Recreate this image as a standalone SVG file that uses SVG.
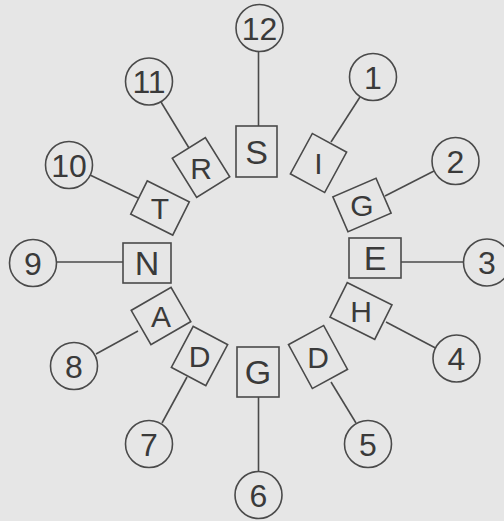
<svg xmlns="http://www.w3.org/2000/svg" width="504" height="521" viewBox="0 0 504 521">
<style>
.bg{fill:#e6e6e6}
.c{fill:none;stroke:#4a4a4a;stroke-width:1.6}
.b{fill:none;stroke:#4a4a4a;stroke-width:1.6}
.l{stroke:#4a4a4a;stroke-width:1.6;fill:none}
.n{font-family:"Liberation Sans",Arial,sans-serif;font-size:32px;fill:#3a3a3a;text-anchor:middle}
.t{font-family:"Liberation Sans",Arial,sans-serif;font-size:30px;fill:#3a3a3a;text-anchor:middle}
.tu{font-family:"Liberation Sans",Arial,sans-serif;font-size:34px;fill:#3a3a3a;text-anchor:middle}
</style>
<rect class="bg" x="0" y="0" width="504" height="521"/>
<g id="connectors">
<line class="l" x1="258.5" y1="51.5" x2="258.5" y2="126"/>
<line class="l" x1="360" y1="97" x2="331" y2="142"/>
<line class="l" x1="434" y1="171" x2="385" y2="196"/>
<line class="l" x1="401" y1="262" x2="463.5" y2="262"/>
<line class="l" x1="386" y1="322" x2="435.5" y2="348"/>
<line class="l" x1="331" y1="382" x2="356" y2="423"/>
<line class="l" x1="258.5" y1="397" x2="258.5" y2="471.5"/>
<line class="l" x1="187" y1="377" x2="162" y2="423"/>
<line class="l" x1="138" y1="331" x2="96" y2="354"/>
<line class="l" x1="123" y1="262" x2="56.5" y2="262"/>
<line class="l" x1="90" y1="175" x2="138" y2="198"/>
<line class="l" x1="161" y1="102" x2="189" y2="148"/>
</g>
<g id="num12"><circle class="c" cx="259.5" cy="28" r="23.5"/><text class="n" x="259.5" y="39.5">12</text></g>
<g id="num1"><circle class="c" cx="373" cy="77" r="23.5"/><text class="n" x="373" y="88.5">1</text></g>
<g id="num2"><circle class="c" cx="455.5" cy="161" r="23.5"/><text class="n" x="455.5" y="172.5">2</text></g>
<g id="num3"><circle class="c" cx="487" cy="262.5" r="23.5"/><text class="n" x="487" y="274">3</text></g>
<g id="num4"><circle class="c" cx="456.5" cy="358.5" r="23.5"/><text class="n" x="456.5" y="370">4</text></g>
<g id="num5"><circle class="c" cx="368" cy="444" r="23.5"/><text class="n" x="368" y="455.5">5</text></g>
<g id="num6"><circle class="c" cx="258.5" cy="495" r="23.5"/><text class="n" x="258.5" y="506.5">6</text></g>
<g id="num7"><circle class="c" cx="149" cy="444" r="23.5"/><text class="n" x="149" y="455.5">7</text></g>
<g id="num8"><circle class="c" cx="74" cy="366" r="23.5"/><text class="n" x="74" y="377.5">8</text></g>
<g id="num9"><circle class="c" cx="33" cy="263" r="23.5"/><text class="n" x="33" y="274.5">9</text></g>
<g id="num10"><circle class="c" cx="69" cy="165" r="23.5"/><text class="n" x="69" y="176.5">10</text></g>
<g id="num11"><circle class="c" cx="149" cy="81.5" r="23.5"/><text class="n" x="149" y="93">11</text></g>
<g id="boxS"><rect class="b" x="236" y="126" width="41" height="51"/><text class="tu" x="256.5" y="164">S</text></g>
<g id="boxI"><rect class="b" x="-19.5" y="-23" width="39" height="46" transform="translate(318.5,163) rotate(28.5)"/><text class="t" x="318.5" y="174">I</text></g>
<g id="boxG1"><rect class="b" x="-23.5" y="-19" width="47" height="38" transform="translate(362,205) rotate(-23.4)"/><text class="t" x="362" y="216">G</text></g>
<g id="boxE"><rect class="b" x="349" y="238" width="52" height="40"/><text class="tu" x="375" y="270">E</text></g>
<g id="boxH"><rect class="b" x="-25" y="-19.25" width="50" height="38.5" transform="translate(361,311) rotate(26.6)"/><text class="t" x="361" y="322">H</text></g>
<g id="boxD1"><rect class="b" x="-20" y="-25" width="40" height="50" transform="translate(318,357) rotate(-28.5)"/><text class="t" x="318" y="368">D</text></g>
<g id="boxG2"><rect class="b" x="237" y="347" width="42" height="50"/><text class="tu" x="258" y="384">G</text></g>
<g id="boxD2"><rect class="b" x="-19.5" y="-23.25" width="39" height="46.5" transform="translate(199.5,356) rotate(28)"/><text class="t" x="199.5" y="367">D</text></g>
<g id="boxA"><rect class="b" x="-23" y="-19.75" width="46" height="39.5" transform="translate(161,316) rotate(-30)"/><text class="t" x="161" y="327">A</text></g>
<g id="boxN"><rect class="b" x="123" y="243" width="48" height="40"/><text class="tu" x="147" y="275">N</text></g>
<g id="boxT"><rect class="b" x="-23.5" y="-18.5" width="47" height="37" transform="translate(160,208) rotate(26.6)"/><text class="t" x="160" y="219">T</text></g>
<g id="boxR"><rect class="b" x="-19.5" y="-23" width="39" height="46" transform="translate(201,167.5) rotate(-32)"/><text class="t" x="201" y="178.5">R</text></g>
</svg>
